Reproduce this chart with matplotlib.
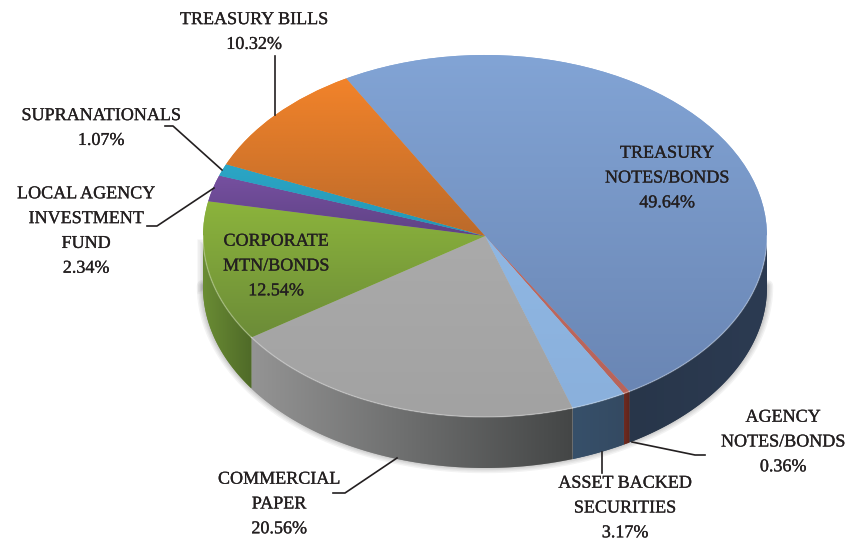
import numpy as np
import matplotlib
matplotlib.use("Agg")
import matplotlib.pyplot as plt
import matplotlib.patheffects as pe
from matplotlib.patches import Polygon
from matplotlib.transforms import Affine2D

# portfolio shares, clockwise from the top
names = ["TREASURY\nNOTES/BONDS", "AGENCY\nNOTES/BONDS", "ASSET BACKED\nSECURITIES",
         "COMMERCIAL\nPAPER", "CORPORATE\nMTN/BONDS", "LOCAL AGENCY\nINVESTMENT\nFUND",
         "SUPRANATIONALS", "TREASURY BILLS"]
shares = [49.64, 0.36, 3.17, 20.56, 12.54, 2.34, 1.07, 10.32]

# top face colours (upper, lower)
top_hi = ["#82a4d5", "#c0695f", "#8fb7e3", "#aaaaaa", "#8cb43c", "#7650a0", "#2ba6c6", "#f2832a"]
top_lo = ["#6a86b4", "#b8645a", "#8ab0dc", "#a2a2a2", "#6c8c38", "#5f4285", "#2596b4", "#bb6a2a"]
# side wall colours (left, right)
wall_l = ["#28364a", "#6e2a20", "#37506a", "#949494", "#6a8c34", "#5f4285", "#2596b4", "#bb6a2a"]
wall_r = ["#2c3b52", "#5e241c", "#344a62", "#444646", "#4f6a28", "#5f4285", "#2596b4", "#bb6a2a"]

label_x = [667, 783, 625, 279, 276, 86, 101, 254]
label_y = [178, 442, 508, 504, 266, 231, 128, 32]

# leader lines in pixels
leaders = [
    ([275, 275], [56, 115]),
    ([165, 173, 222], [126, 126, 170]),
    ([147, 157, 214], [226, 226, 188]),
    ([333, 345, 397], [493, 493, 458]),
    ([602, 602], [452, 473]),
    ([705, 695, 632], [455, 455, 442]),
]

W, H = 863, 545
cx, cy, rx, ry = 485, 236, 282, 181
depth = 51 / ry

plt.rcParams["font.family"] = ["Liberation Serif", "DejaVu Serif"]

fig = plt.figure(figsize=(W / 100, H / 100), dpi=100)
ax = fig.add_axes([0, 0, 1, 1])
pix = Affine2D().scale(1, -1).translate(0, H)


def arc(t1, t2):
    t = np.radians(np.linspace(t1, t2, 200))
    return np.cos(t), np.sin(t)


def gradient(c1, c2, vertical):
    a = np.array(matplotlib.colors.to_rgb(c1))
    b = np.array(matplotlib.colors.to_rgb(c2))
    f = np.linspace(0, 1, 256)[:, None]
    g = a * (1 - f) + b * f
    return g[:, None, :] if vertical else g[None, :, :]


wedges, _ = ax.pie(shares, startangle=119.5, counterclock=False, radius=1,
                   colors=top_hi, wedgeprops={"zorder": 3, "linewidth": 0})
ax.set_aspect("auto")

# soft shadow under the wall
sx, sy = arc(180, 360)
sy = sy - depth * 0.98
for lw in [9, 7, 5, 3.5, 2]:
    ax.plot(sx, sy, color="#555555", lw=lw, alpha=0.07, zorder=1, solid_capstyle="round")
    ax.plot([-1, -1], [-depth, -0.05], color="#555555", lw=lw, alpha=0.05, zorder=1)

for i, w in enumerate(wedges):
    # top face
    x, y = arc(w.theta1, w.theta2)
    x = np.r_[0, x]
    y = np.r_[0, y]
    im = ax.imshow(gradient(top_hi[i], top_lo[i], True), aspect="auto", zorder=4,
                   extent=(x.min(), x.max(), y.min(), y.max()))
    im.set_clip_path(w)

    # front wall
    t1, t2 = max(w.theta1, -180), min(w.theta2, 0)
    if t1 >= t2:
        continue
    x, y = arc(t1, t2)
    pts = np.r_[np.c_[x, y], np.c_[x[::-1], y[::-1] - depth]]
    p = Polygon(pts, closed=True, fc=wall_l[i], ec="none", zorder=2)
    ax.add_patch(p)
    im = ax.imshow(gradient(wall_l[i], wall_r[i], False), aspect="auto", zorder=2.5,
                   extent=(x.min(), x.max(), (y - depth).min(), y.max()))
    im.set_clip_path(p)
    # light rim along the top edge
    ax.plot(x, y, color="white", lw=1, alpha=0.3, zorder=5)

ax.set_xlim(-cx / rx, (W - cx) / rx)
ax.set_ylim((cy - H) / ry, cy / ry)
ax.axis("off")

for lx, ly in leaders:
    ax.plot(lx, ly, color="#231f20", lw=1.2, transform=pix, zorder=6)

for n, v, x, y in zip(names, shares, label_x, label_y):
    ax.text(x, y, f"{n}\n{v:.2f}%", transform=pix, ha="center", va="center",
            multialignment="center", fontsize=13, color="#231f20", linespacing=1.6, zorder=7,
            path_effects=[pe.withStroke(linewidth=0.2, foreground="#231f20")])

fig.savefig("out.png", dpi=100)
